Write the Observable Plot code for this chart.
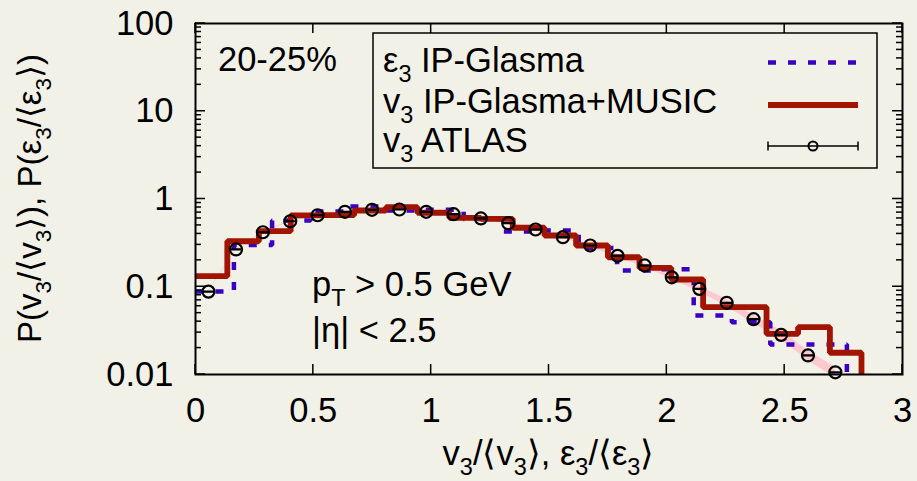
<!DOCTYPE html>
<html>
<head>
<meta charset="utf-8">
<script src="https://cdn.jsdelivr.net/npm/d3@7"></script>
<script src="https://cdn.jsdelivr.net/npm/@observablehq/plot@0.6"></script>
<style>
  html, body { margin: 0; padding: 0; background: #f2f1e7; }
  #chart { width: 917px; height: 481px; }
</style>
</head>
<body>
<div id="chart"></div>
<script>
// ---- ATLAS v3/<v3>, 20-25% centrality ----
const atlasX = [0.055, 0.172, 0.286, 0.402, 0.518, 0.634, 0.749, 0.865, 0.979, 1.095, 1.211, 1.327,
                1.443, 1.559, 1.675, 1.791, 1.906, 2.021, 2.138, 2.254, 2.368, 2.485, 2.599, 2.715];
const atlasP = [0.088, 0.266, 0.418, 0.558, 0.653, 0.714, 0.753, 0.759, 0.714, 0.671, 0.600, 0.530,
                0.449, 0.367, 0.295, 0.225, 0.175, 0.128, 0.0946, 0.0656, 0.0427, 0.0283, 0.0165, 0.0106];
// relative half-width of the systematic band
const atlasSys = [0.015, 0.015, 0.015, 0.015, 0.015, 0.015, 0.02, 0.02, 0.02, 0.02, 0.025, 0.025,
                  0.03, 0.03, 0.035, 0.04, 0.045, 0.05, 0.07, 0.09, 0.11, 0.12, 0.13, 0.14];

// ---- v3 IP-Glasma+MUSIC histogram ----
const musicEdges = [0, 0.135, 0.269, 0.404, 0.538, 0.673, 0.808, 0.942, 1.077, 1.211, 1.346,
                    1.481, 1.615, 1.750, 1.884, 2.019, 2.154, 2.288, 2.423, 2.557, 2.692, 2.826];
const musicP = [0.132, 0.330, 0.430, 0.650, 0.655, 0.740, 0.807, 0.697, 0.611, 0.594, 0.470,
                0.384, 0.295, 0.217, 0.164, 0.121, 0.0585, 0.0585, 0.0291, 0.0346, 0.0177];

// ---- eps3 IP-Glasma histogram ----
const glasmaEdges = [0, 0.163, 0.325, 0.488, 0.650, 0.813, 0.976, 1.138, 1.301, 1.463,
                     1.626, 1.789, 1.951, 2.114, 2.276, 2.439, 2.602, 2.764];
const glasmaP = [0.088, 0.30, 0.57, 0.72, 0.82, 0.74, 0.755, 0.59, 0.425, 0.437,
                 0.277, 0.153, 0.158, 0.047, 0.0394, 0.022, 0.022];

// ---- axes ----
const xTicks = [0, 0.5, 1, 1.5, 2, 2.5, 3];
const yTicks = [0.01, 0.1, 1, 10, 100];
const xDomain = [0, 3];
const yDomain = [0.01, 100];

const FONT = '"Liberation Sans", Arial, Helvetica, sans-serif';
const BG = "#f2f1e7";
const RED = "#a01400";
const BLUE = "#3a00c2";
const PINK = "#ffc9cf";
const FS = 34.5;

// histogram outline: flat top per bin, dropping below the axis floor after the last bin
function stepOutline(edges, values) {
  const pts = [];
  values.forEach((v, i) => {
    pts.push({x: edges[i], y: v});
    pts.push({x: edges[i + 1], y: v});
  });
  pts.push({x: edges[edges.length - 1], y: yDomain[0] * 0.5});
  return pts;
}

const atlas = atlasX.map((x, i) => ({x, y: atlasP[i], e: atlasSys[i]}));

// open circle with a horizontal bar through it
const circleBar = {
  draw(ctx) {
    const r = 6;
    ctx.moveTo(r, 0);
    ctx.arc(0, 0, r, 0, 2 * Math.PI);
    ctx.moveTo(-r, 0);
    ctx.lineTo(r, 0);
  }
};

const plot = Plot.plot({
  width: 917,
  height: 481,
  marginTop: 23,
  marginRight: 15,
  marginBottom: 107,
  marginLeft: 195,
  style: {background: BG, fontFamily: FONT},
  x: {domain: xDomain},
  y: {type: "log", domain: yDomain},
  marks: [
    Plot.areaY(atlas, {x: "x", y1: d => d.y * (1 - d.e), y2: d => d.y * (1 + d.e), fill: PINK, clip: true}),
    Plot.line(stepOutline(glasmaEdges, glasmaP), {x: "x", y: "y", stroke: BLUE, strokeWidth: 4.5,
      strokeDasharray: "8,12", strokeLinecap: "butt", strokeLinejoin: "miter", clip: true}),
    Plot.line(stepOutline(musicEdges, musicP), {x: "x", y: "y", stroke: RED, strokeWidth: 5.8,
      strokeLinejoin: "miter", clip: true}),
    Plot.dot(atlas, {x: "x", y: "y", symbol: circleBar, r: 6, fill: "none", stroke: "black", strokeWidth: 2.2}),
    Plot.frame({stroke: "black", strokeWidth: 2}),
    Plot.axisX({ticks: xTicks, tickSize: 0, tickPadding: 23, fontSize: FS, label: null,
      tickFormat: d => String(d)}),
    Plot.axisY({ticks: yTicks, tickSize: 0, tickPadding: 22, fontSize: FS, label: null,
      tickFormat: d => String(d)})
  ]
});

document.getElementById("chart").appendChild(plot);

// ---- inward ticks on all four sides, placed with the plot's own scales ----
const xsc = plot.scale("x"), ysc = plot.scale("y");
const sx = d3.scaleLinear(xsc.domain, xsc.range);
const sy = d3.scaleLog(ysc.domain, ysc.range);
const [frameL, frameR] = xsc.range;
const [frameB, frameT] = ysc.range;
const svg = d3.select(plot);
const tg = svg.append("g").attr("stroke", "black").attr("stroke-width", 1.5);
const MAJ = 10, MIN = 6;
xTicks.forEach(v => {
  const x = sx(v);
  tg.append("line").attr("x1", x).attr("x2", x).attr("y1", frameB).attr("y2", frameB - MAJ);
  tg.append("line").attr("x1", x).attr("x2", x).attr("y1", frameT).attr("y2", frameT + MAJ);
});
d3.scaleLog().domain(yDomain).ticks().forEach(v => {
  const major = yTicks.some(t => Math.abs(t - v) / t < 1e-9);
  const len = major ? MAJ : MIN;
  const y = sy(v);
  tg.append("line").attr("x1", frameL).attr("x2", frameL + len).attr("y1", y).attr("y2", y);
  tg.append("line").attr("x1", frameR).attr("x2", frameR - len).attr("y1", y).attr("y2", y);
});

// ---- rich text helper: parts are [text] or [text, "sub"] ----
const SUB = 0.68, SHIFT = 0.3;
function rich(g, parts, fs) {
  let shifted = false;
  parts.forEach(([t, kind]) => {
    const ts = g.append("tspan").text(t);
    if (kind === "sub" && !shifted) { ts.attr("font-size", fs * SUB).attr("dy", fs * SHIFT); shifted = true; }
    else if (kind !== "sub" && shifted) { ts.attr("dy", -fs * SHIFT); shifted = false; }
    else if (kind === "sub") ts.attr("font-size", fs * SUB);
  });
  return g;
}
const og = svg.append("g").attr("font-family", FONT).attr("font-size", FS).attr("fill", "black")
  .attr("text-anchor", "start");

// axis titles
rich(og.append("text").attr("x", (frameL + frameR) / 2).attr("y", 465).attr("text-anchor", "middle"),
  [["v"], ["3", "sub"], ["/⟨v"], ["3", "sub"], ["⟩, ε"], ["3", "sub"], ["/⟨ε"], ["3", "sub"], ["⟩"]], FS);
rich(og.append("text").attr("transform", `translate(41,${(frameT + frameB) / 2}) rotate(-90)`)
    .attr("text-anchor", "middle").attr("font-size", 33),
  [["P(v"], ["3", "sub"], ["/⟨v"], ["3", "sub"], ["⟩), P(ε"], ["3", "sub"], ["/⟨ε"], ["3", "sub"], ["⟩)"]], 33);

// annotations
og.append("text").attr("x", 218).attr("y", 71).text("20-25%");
rich(og.append("text").attr("x", 312).attr("y", 296), [["p"], ["T", "sub"], [" > 0.5 GeV"]], FS);
og.append("text").attr("x", 312).attr("y", 342).text("|η| < 2.5");

// legend
const lg = svg.append("g").attr("font-family", FONT).attr("font-size", FS).attr("text-anchor", "start");
lg.append("rect").attr("x", 373).attr("y", 33).attr("width", 504).attr("height", 135)
  .attr("fill", "none").attr("stroke", "black").attr("stroke-width", 1.5);
const rows = [
  {parts: [["ε"], ["3", "sub"], [" IP-Glasma"]], base: 72},
  {parts: [["v"], ["3", "sub"], [" IP-Glasma+MUSIC"]], base: 113},
  {parts: [["v"], ["3", "sub"], [" ATLAS"]], base: 152}
];
rows.forEach(r => rich(lg.append("text").attr("x", 383).attr("y", r.base), r.parts, FS));
const lx0 = 768, lx1 = 858;
lg.append("line").attr("x1", lx0).attr("x2", lx1).attr("y1", 62.5).attr("y2", 62.5)
  .attr("stroke", BLUE).attr("stroke-width", 4.5).attr("stroke-dasharray", "8,12");
lg.append("line").attr("x1", lx0).attr("x2", lx1).attr("y1", 105).attr("y2", 105)
  .attr("stroke", RED).attr("stroke-width", 5.8);
const eb = lg.append("g").attr("stroke", "black").attr("stroke-width", 1.5).attr("fill", "none");
eb.append("line").attr("x1", lx0).attr("x2", lx1).attr("y1", 146).attr("y2", 146);
eb.append("line").attr("x1", lx0).attr("x2", lx0).attr("y1", 141.5).attr("y2", 150.5);
eb.append("line").attr("x1", lx1).attr("x2", lx1).attr("y1", 141.5).attr("y2", 150.5);
eb.append("circle").attr("cx", (lx0 + lx1) / 2).attr("cy", 146).attr("r", 4.5).attr("stroke-width", 2);
</script>
</body>
</html>
